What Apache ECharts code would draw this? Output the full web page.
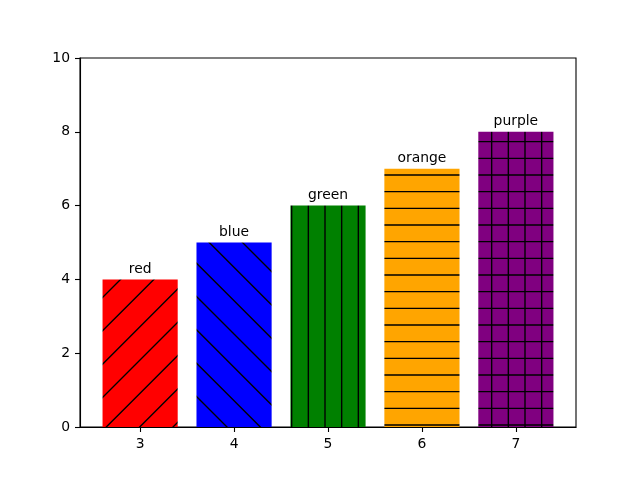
<!DOCTYPE html>
<html>
<head>
<meta charset="utf-8">
<script src="https://cdn.jsdelivr.net/npm/echarts@6/dist/echarts.min.js"></script>
<style>
  html, body { margin: 0; padding: 0; background: #ffffff; }
  #main { width: 640px; height: 480px; }
</style>
</head>
<body>
<div id="main"></div>
<script>
// 数据
const positions = [3, 4, 5, 6, 7]
const values = [4, 5, 6, 7, 8]
const names = ['red', 'blue', 'green', 'orange', 'purple']
const fills = ['red', 'blue', 'green', 'orange', 'purple']
const hatches = ['/', '\\', '|', '-', '+']
const yTicks = [0, 2, 4, 6, 8, 10]

// 画阴影线的贴图 (100px 一块)
function makeHatch(fill, hatch) {
  const size = 100
  const step = size / 6
  const cv = document.createElement('canvas')
  cv.width = size
  cv.height = size
  const ctx = cv.getContext('2d')
  ctx.fillStyle = fill
  ctx.fillRect(0, 0, size, size)
  ctx.strokeStyle = '#000000'
  ctx.lineWidth = 1.39
  ctx.beginPath()
  if (hatch === '-' || hatch === '+') {
    for (let i = 0; i < 6; i++) {
      let y = step / 2 + i * step
      ctx.moveTo(-5, y)
      ctx.lineTo(size + 5, y)
    }
  }
  if (hatch === '|' || hatch === '+') {
    for (let i = 0; i < 6; i++) {
      let x = step / 2 + i * step
      ctx.moveTo(x, -5)
      ctx.lineTo(x, size + 5)
    }
  }
  if (hatch === '/') {
    for (let k = -1; k <= 7; k++) {
      let c = k * size / 3
      ctx.moveTo(c + 10, -10)
      ctx.lineTo(c - size - 10, size + 10)
    }
  }
  if (hatch === '\\') {
    for (let k = -4; k <= 4; k++) {
      let c = k * size / 3
      ctx.moveTo(c - 10, -10)
      ctx.lineTo(c + size + 10, size + 10)
    }
  }
  ctx.stroke()
  return cv
}

const chart = echarts.init(document.getElementById('main'), null, { renderer: 'canvas' })

const xMin = 2.36
const xMax = 7.64
const gridW = 496
const barW = gridW / (xMax - xMin) * 0.8

let barData = []
for (let i = 0; i < positions.length; i++) {
  barData.push({
    value: [positions[i], values[i]],
    name: names[i],
    itemStyle: {
      color: { image: makeHatch(fills[i], hatches[i]), repeat: 'repeat' }
    }
  })
}

const font = 'DejaVu Sans'

const option = {
  backgroundColor: '#ffffff',
  animation: false,
  grid: {
    left: 80,
    right: 64,
    top: 58,
    bottom: 53,
    show: true,
    borderColor: '#000000',
    borderWidth: 1.1,
    backgroundColor: 'transparent'
  },
  xAxis: {
    type: 'value',
    min: xMin,
    max: xMax,
    splitLine: { show: false },
    axisLine: { lineStyle: { color: '#000000', width: 1.1 } },
    axisTick: {
      customValues: positions,
      length: 5,
      lineStyle: { color: '#000000', width: 1.1 }
    },
    axisLabel: {
      customValues: positions,
      margin: 10,
      color: '#000000',
      fontFamily: font,
      fontSize: 13.9
    }
  },
  yAxis: {
    type: 'value',
    min: 0,
    max: 10,
    interval: 2,
    splitLine: { show: false },
    axisLine: { show: true, lineStyle: { color: '#000000', width: 1.1 } },
    axisTick: {
      show: true,
      customValues: yTicks,
      length: 5,
      lineStyle: { color: '#000000', width: 1.1 }
    },
    axisLabel: {
      customValues: yTicks,
      margin: 10,
      color: '#000000',
      fontFamily: font,
      fontSize: 13.9
    }
  },
  series: [{
    type: 'bar',
    data: barData,
    barWidth: barW,
    label: {
      show: true,
      position: 'top',
      distance: 3,
      formatter: function (p) { return p.name },
      color: '#000000',
      fontFamily: font,
      fontSize: 13.9
    }
  }]
}

chart.setOption(option)
</script>
</body>
</html>
